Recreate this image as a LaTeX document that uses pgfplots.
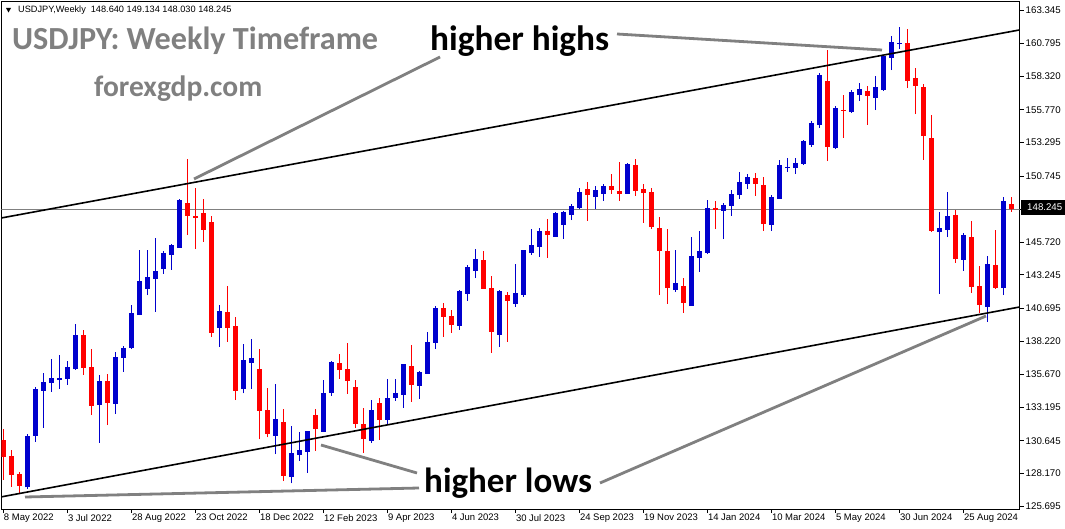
\documentclass[border=0pt]{standalone}
\usepackage{fontspec}
\setmainfont{Liberation Sans}
\newfontfamily\calibri{Carlito}
\usepackage{pgfplots}
\pgfplotsset{compat=1.18}
\usepackage{pgfplotstable}

\definecolor{upc}{RGB}{0,0,205}
\definecolor{dnc}{RGB}{255,0,0}
\definecolor{anngray}{RGB}{128,128,128}

% weekly candles, index 0 = week of 8 May 2022
\pgfplotstableread{
i O H L C
3 127.11 131.16 126.99 131.01
4 131.03 134.70 130.58 134.58
5 134.45 135.81 131.64 135.11
6 135.05 136.85 134.37 135.41
7 135.26 137.16 134.58 135.41
8 135.36 136.70 134.90 136.25
9 136.09 139.51 136.02 138.68
12 133.36 135.64 130.48 135.21
14 133.44 137.41 132.68 137.01
15 136.95 137.84 135.89 137.69
16 137.69 140.95 137.61 140.35
17 140.19 145.15 140.19 142.77
18 142.19 145.15 141.71 143.08
19 142.95 146.04 140.44 143.53
20 143.71 145.05 143.31 144.90
21 144.77 145.58 143.61 145.51
22 145.30 148.98 145.28 148.92
27 139.23 140.95 137.79 140.50
30 134.60 137.99 134.25 136.78
31 136.57 138.37 134.58 136.93
34 131.03 134.96 129.64 132.30
36 127.92 131.77 127.42 129.72
37 129.59 131.31 129.13 129.95
38 129.82 131.39 128.22 131.39
40 131.34 135.26 131.31 134.27
41 134.30 136.70 134.05 136.63
46 130.65 133.74 130.50 132.98
48 132.25 135.34 131.92 133.89
49 133.92 135.34 133.69 134.27
50 134.14 136.47 133.16 136.47
52 134.83 135.94 133.84 135.87
53 135.74 138.90 135.72 138.14
54 138.09 140.88 137.61 140.72
57 139.38 142.09 139.06 142.02
58 141.79 143.99 141.26 143.84
59 143.56 145.20 143.00 144.44
62 138.70 142.09 137.79 142.02
64 141.05 144.07 140.82 141.86
65 141.73 145.13 141.58 145.13
66 144.92 146.72 144.77 145.51
67 145.38 146.80 144.62 146.57
69 146.14 148.01 146.14 147.94
70 147.05 148.09 145.99 148.01
71 147.81 148.62 147.40 148.47
72 148.32 149.83 148.24 149.53
74 149.15 149.99 148.24 149.68
75 149.38 150.14 148.85 149.99
78 149.38 151.73 149.38 151.66
84 142.09 145.13 141.94 142.62
86 140.88 146.11 140.88 144.67
87 144.52 146.57 143.46 145.05
88 144.90 148.92 144.82 148.32
90 148.09 148.70 145.96 148.54
91 148.47 149.68 147.71 149.38
92 149.30 151.05 149.00 150.29
93 150.14 150.90 149.76 150.67
96 147.03 149.30 146.57 149.15
97 149.00 151.96 149.00 151.58
98 151.35 152.11 151.05 151.43
99 151.35 152.11 150.90 151.73
100 151.66 153.48 151.58 153.40
101 153.10 154.92 152.95 154.77
102 154.62 158.56 154.39 158.41
104 152.87 156.06 152.79 155.91
106 155.60 157.27 155.53 157.12
107 156.89 157.80 156.44 157.35
109 156.67 158.34 155.75 157.50
110 157.27 159.93 157.20 159.85
111 159.70 161.37 158.79 160.92
112 160.76 162.05 160.38 160.84
117 146.49 148.01 141.79 146.80
118 146.65 149.53 146.11 147.71
120 144.37 146.42 143.56 146.27
123 140.82 144.67 139.69 144.07
125 142.27 149.15 141.71 148.85
}\upweeks

\pgfplotstableread{
i O H L C
0 130.71 131.52 127.67 129.39
1 129.49 129.95 127.16 128.05
2 128.12 128.30 126.66 127.21
10 138.68 139.06 135.64 136.19
11 136.25 137.61 132.60 133.31
13 135.21 135.72 131.84 133.54
23 148.70 152.04 146.27 147.73
24 147.71 149.81 145.20 147.56
25 147.94 149.00 145.76 146.65
26 147.28 147.71 138.55 138.85
28 140.42 142.39 138.17 139.23
29 139.36 140.06 133.74 134.45
32 136.09 137.61 130.76 132.93
33 132.98 134.65 130.91 131.16
35 132.07 133.06 127.59 127.99
39 132.60 133.06 129.87 131.56
42 136.55 137.23 135.34 136.00
43 136.09 138.07 134.22 135.21
44 134.73 135.26 131.64 131.94
45 131.92 133.13 129.74 130.80
47 133.51 133.89 130.73 132.25
51 136.32 137.92 133.61 134.90
55 140.72 141.10 138.55 140.06
56 140.12 140.57 138.85 139.46
60 144.37 145.05 142.17 142.19
61 142.24 143.15 137.33 138.93
63 141.71 141.94 138.17 141.28
68 146.57 147.48 144.54 146.27
73 149.76 150.29 147.33 149.30
76 149.99 150.90 149.38 149.68
77 149.61 151.81 148.85 149.38
79 151.58 152.04 149.23 149.61
80 149.76 150.14 147.18 149.45
81 149.53 149.83 146.72 146.87
82 146.80 147.63 141.71 145.05
83 145.05 146.72 141.03 142.24
85 142.39 143.00 140.37 141.13
89 148.32 148.85 146.72 148.16
94 150.59 150.97 149.23 150.14
95 150.06 150.67 146.57 147.10
103 157.96 160.31 151.88 152.95
105 155.75 156.89 153.63 155.68
108 157.20 157.58 154.62 156.82
113 160.84 161.90 157.42 157.96
114 158.18 158.94 155.45 157.58
115 157.50 157.73 151.96 153.78
116 153.63 155.37 146.49 146.57
119 147.78 148.16 144.16 144.44
121 146.11 147.33 141.89 142.34
122 142.39 143.91 140.37 140.95
124 143.99 146.65 142.19 142.27
126 148.64 149.13 148.03 148.245
}\downweeks

\begin{document}
\begin{tikzpicture}
\useasboundingbox (0,0) rectangle (1065pt,528pt);
\fill[white] (0,0) rectangle (1065pt,528pt);
\begin{axis}[
    at={(1.5pt,19pt)}, anchor=south west,
    scale only axis, width=1018pt, height=507.5pt,
    xmin=-0.225, xmax=127.025,
    ymin=125.467, ymax=163.99,
    axis line style={line width=0.8pt},
    xtick pos=bottom, ytick pos=right, yticklabel pos=right,
    tick align=outside, major tick length=4pt,
    tick style={black, line width=0.8pt},
    xtick={0,8,...,120},
    xticklabels={8 May 2022, 3 Jul 2022, 28 Aug 2022, 23 Oct 2022, 18 Dec 2022,
        12 Feb 2023, 9 Apr 2023, 4 Jun 2023, 30 Jul 2023, 24 Sep 2023,
        19 Nov 2023, 14 Jan 2024, 10 Mar 2024, 5 May 2024, 30 Jun 2024, 25 Aug 2024},
    xticklabel style={font=\fontsize{9.5}{10}\selectfont, anchor=north west, inner sep=0pt, xshift=0.5pt, yshift=-1pt},
    ytick={125.695,128.170,130.645,133.195,135.670,138.220,140.695,143.245,145.720,148.245,150.745,153.295,155.770,158.320,160.795,163.345},
    yticklabels={125.695,128.170,130.645,133.195,135.670,138.220,140.695,143.245,145.720,,150.745,153.295,155.770,158.320,160.795,163.345},
    yticklabel style={font=\fontsize{9.7}{10}\selectfont, anchor=west, inner sep=0pt, xshift=2pt},
]
% current price line
\addplot[anngray, line width=0.8pt] coordinates {(-0.225,148.245)(127.025,148.245)};

% wicks
\addplot[draw=none, error bars/.cd, y dir=plus, y explicit, error mark=none,
    error bar style={draw=upc, line width=1.2pt}]
    table[x=i, y=L, y error plus expr=\thisrow{H}-\thisrow{L}] {\upweeks};
\addplot[draw=none, error bars/.cd, y dir=plus, y explicit, error mark=none,
    error bar style={draw=dnc, line width=1.2pt}]
    table[x=i, y=L, y error plus expr=\thisrow{H}-\thisrow{L}] {\downweeks};
% bodies
\addplot[draw=none, error bars/.cd, y dir=plus, y explicit, error mark=none,
    error bar style={draw=upc, line width=5.4pt}]
    table[x=i, y=O, y error plus expr=\thisrow{C}-\thisrow{O}] {\upweeks};
\addplot[draw=none, error bars/.cd, y dir=plus, y explicit, error mark=none,
    error bar style={draw=dnc, line width=5.4pt}]
    table[x=i, y=C, y error plus expr=\thisrow{O}-\thisrow{C}] {\downweeks};

% channel lines
\addplot[black, line width=1.6pt] coordinates {(-0.225,147.56)(127.025,161.83)};
\addplot[black, line width=1.6pt] coordinates {(-0.225,126.39)(127.025,140.80)};
\end{axis}

% annotations in pixel coordinates (origin top left)
\begin{scope}[x=1pt, y=-1pt, shift={(0pt,528pt)}]
  \fill (6,8) -- (11,8) -- (8.5,12.5) -- cycle;
  \node[anchor=base west, inner sep=0pt, font=\fontsize{9.2}{10}\selectfont] at (18,13)
    {USDJPY,Weekly\hspace{5pt}148.640 149.134 148.030 148.245};
  \node[anchor=base west, inner sep=0pt, text=anngray, font=\calibri\bfseries\fontsize{32.2}{32}\selectfont] at (12,50) {USDJPY: Weekly Timeframe};
  \node[anchor=base west, inner sep=0pt, text=anngray, font=\calibri\bfseries\fontsize{29.5}{29}\selectfont] at (94,97) {forexgdp.com};
  \node[anchor=base west, inner sep=0pt, font=\calibri\bfseries\fontsize{35.3}{35}\selectfont] at (430,51) {higher highs};
  \node[anchor=base west, inner sep=0pt, font=\calibri\bfseries\fontsize{35}{35}\selectfont] at (424,492) {higher lows};
  \begin{scope}[anngray, line width=2.8pt]
    \draw (194,179) -- (440,57);
    \draw (617,34) -- (882,50);
    \draw (321,445) -- (417,473);
    \draw (25,497) -- (419,488);
    \draw (600,483) -- (986,316);
  \end{scope}
  \fill[black] (1021,200) rectangle (1065,215);
  \node[anchor=west, inner sep=0pt, text=white, font=\fontsize{9.7}{10}\selectfont] at (1027,207.5) {148.245};
\end{scope}
\end{tikzpicture}
\end{document}
